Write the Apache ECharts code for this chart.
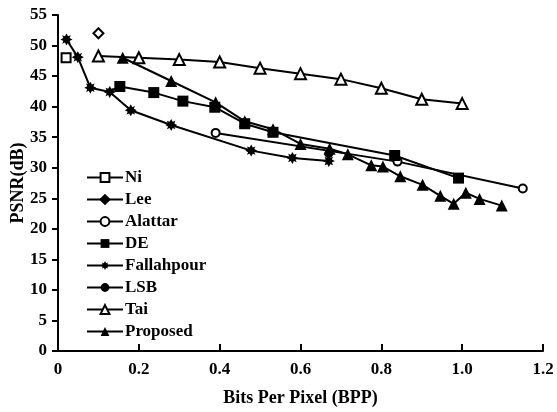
<!DOCTYPE html>
<html>
<head>
<meta charset="utf-8">
<script src="https://cdn.jsdelivr.net/npm/echarts@6/dist/echarts.min.js"></script>
<style>
html,body{margin:0;padding:0;background:#fff;}
#chart{width:557px;height:412px;}
</style>
</head>
<body>
<div id="chart"></div>
<script>
// ---- data ----
var xTicks = [0, 0.2, 0.4, 0.6, 0.8, 1.0, 1.2];
var yTicks = [0, 5, 10, 15, 20, 25, 30, 35, 40, 45, 50, 55];

var niX = [0.02];
var niY = [48.0];

var leeX = [0.10];
var leeY = [52.0];

var alattarX = [0.39, 0.84, 1.15];
var alattarY = [35.7, 31.0, 26.6];

var deX = [0.128, 0.153, 0.237, 0.309, 0.388, 0.462, 0.532, 0.833, 0.991];
var deY = [42.4, 43.3, 42.3, 40.9, 39.9, 37.2, 35.8, 32.0, 28.3];

var fallahX = [0.021, 0.049, 0.080, 0.128, 0.180, 0.280, 0.478, 0.580, 0.670];
var fallahY = [51.0, 48.1, 43.1, 42.4, 39.4, 37.0, 32.8, 31.6, 31.1];

var lsbX = [0.670];
var lsbY = [32.3];

var taiX = [0.10, 0.20, 0.30, 0.40, 0.50, 0.60, 0.70, 0.80, 0.90, 1.00];
var taiY = [48.3, 48.0, 47.7, 47.3, 46.3, 45.4, 44.5, 43.0, 41.2, 40.5];

var propX = [0.16, 0.28, 0.39, 0.462, 0.532, 0.60, 0.672, 0.717, 0.775, 0.804, 0.847, 0.902, 0.946, 0.979, 1.009, 1.043, 1.098];
var propY = [48.0, 44.2, 40.7, 37.6, 36.3, 33.9, 33.1, 32.2, 30.4, 30.2, 28.6, 27.2, 25.4, 24.1, 25.9, 24.9, 23.8];

var legendNames = ['Ni', 'Lee', 'Alattar', 'DE', 'Fallahpour', 'LSB', 'Tai', 'Proposed'];

// ---- helpers ----
function zip(xs, ys) { return xs.map(function (x, i) { return [x, ys[i]]; }); }
var STAR = 'path://M0,-10 L2.6,-5.2 L7.07,-7.07 L5.2,-2.6 L10,0 L5.2,2.6 L7.07,7.07 L2.6,5.2 L0,10 L-2.6,5.2 L-7.07,7.07 L-5.2,2.6 L-10,0 L-5.2,-2.6 L-7.07,-7.07 L-2.6,-5.2 Z';
var FONT = 'Liberation Serif';
var lineStyle = { color: '#000', width: 2 };
var openItem = { color: '#fff', borderColor: '#000', borderWidth: 2 };
var fillItem = { color: '#000', borderColor: '#000', borderWidth: 0 };

function mk(name, xs, ys, symbol, size, item, extra) {
  var s = {
    name: name, type: 'line', data: zip(xs, ys), symbol: symbol, symbolSize: size,
    showAllSymbol: true, lineStyle: lineStyle, itemStyle: item, animation: false,
    emphasis: { disabled: true }, z: 2
  };
  if (extra) for (var k in extra) s[k] = extra[k];
  return s;
}

var deData = zip(deX, deY);
deData[0] = { value: deData[0], symbol: 'none' };

var series = [
  mk('Ni', niX, niY, 'rect', 9, openItem),
  mk('Lee', leeX, leeY, 'diamond', 10, openItem),
  mk('Alattar', alattarX, alattarY, 'circle', 8, openItem),
  (function () { var s = mk('DE', deX, deY, 'rect', 11, fillItem); s.data = deData; return s; })(),
  mk('Fallahpour', fallahX, fallahY, STAR, 12, fillItem),
  mk('LSB', lsbX, lsbY, 'circle', 9, fillItem),
  mk('Tai', taiX, taiY, 'triangle', 11, openItem),
  mk('Proposed', propX, propY, 'triangle', 12, fillItem, { z: 3 })
];

var legendData = legendNames.map(function (n) {
  if (n === 'Lee') return { name: n, itemStyle: { color: '#000', borderColor: '#000' } };
  return { name: n };
});

var chart = echarts.init(document.getElementById('chart'), null, { renderer: 'canvas' });
chart.setOption({
  animation: false,
  backgroundColor: '#fff',
  grid: { left: 58, right: 14, top: 15, bottom: 59, containLabel: false },
  legend: {
    data: legendData, orient: 'vertical', left: 81, top: 164,
    itemWidth: 36, itemHeight: 11, itemGap: 5,
    textStyle: { fontFamily: FONT, fontWeight: 'bold', fontSize: 17, lineHeight: 17, color: '#000', padding: [0, 0, 0, -3] },
    selectedMode: false
  },
  xAxis: {
    type: 'value', min: 0, max: 1.2, interval: 0.2,
    name: 'Bits Per Pixel (BPP)', nameLocation: 'middle', nameGap: 38, nameMoveOverlap: false,
    nameTextStyle: { fontFamily: FONT, fontWeight: 'bold', fontSize: 18, color: '#000' },
    axisLine: { lineStyle: { color: '#000', width: 2 } },
    axisTick: { inside: true, length: 7, lineStyle: { color: '#000', width: 2 } },
    axisLabel: {
      margin: 10, fontFamily: FONT, fontWeight: 'bold', fontSize: 17, color: '#000',
      formatter: function (v) { var i = xTicks.indexOf(+v.toFixed(1)); return i === 0 ? '0' : (+v).toFixed(1); }
    },
    splitLine: { show: false }
  },
  yAxis: {
    type: 'value', min: 0, max: 55, interval: 5,
    name: 'PSNR(dB)', nameLocation: 'middle', nameGap: 31, nameMoveOverlap: false,
    nameTextStyle: { fontFamily: FONT, fontWeight: 'bold', fontSize: 18, color: '#000' },
    axisLine: { show: true, lineStyle: { color: '#000', width: 2 } },
    axisTick: { show: true, inside: false, length: 6, lineStyle: { color: '#000', width: 2 } },
    axisLabel: {
      margin: 11, fontFamily: FONT, fontWeight: 'bold', fontSize: 17, color: '#000',
      formatter: function (v) { return yTicks.indexOf(v) >= 0 ? String(v) : ''; }
    },
    splitLine: { show: false }
  },
  series: series
});
</script>
</body>
</html>
